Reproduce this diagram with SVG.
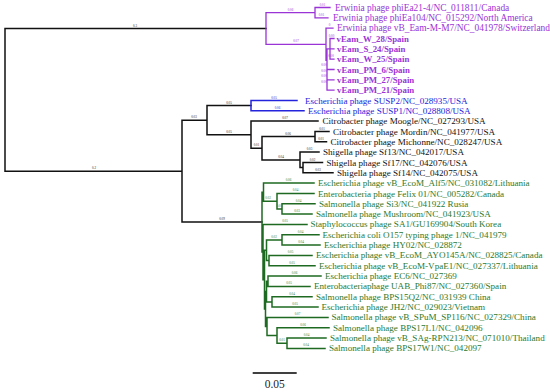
<svg xmlns="http://www.w3.org/2000/svg" width="550" height="392" viewBox="0 0 550 392">
<style>
.br{fill:none;stroke-width:1.5;stroke-linecap:square}
.k{stroke:#111}
.pu{stroke:#9a34d6;stroke-width:1.3}
.bl{stroke:#2424dc}
.gr{stroke:#1f6a22}
text{font-family:"Liberation Serif",serif}
.t{font-size:9.1px}
.tp{font-size:9.4px;fill:#9a34d6}
.tv{font-size:8.8px;font-weight:bold;fill:#9a34d6}
.tb{fill:#2424dc}
.tk{fill:#111}
.tg{fill:#2b7a2e}
.l{font-family:"Liberation Sans",sans-serif;font-size:3.2px;text-anchor:middle}
.lk{fill:#222}.lp{fill:#9a34d6}.lb{fill:#2424dc}.lg{fill:#2b7a2e}
</style>
<rect width="550" height="392" fill="#fff"/>
<g id="connectors">
<path class="br k" d="M5,28.5V171.2M5,28.5H266M5,171.2H182M182,120.2V222.1M182,120.2H207M182,222.1H262M207,105.6V134.7M207,105.6H251M207,134.7H251M251,121.1V148.2M251,121.1H318M251,148.2H262M262,136.6V159.9M262,136.6H315M262,159.9H300M315,131.5V141.8M315,131.5H329M315,141.8H326.5M300,152.1V167.6M300,152.1H319M300,167.6H303M303,162.5V172.8M303,162.5H322.5M303,172.8H333"/>
<path class="br bl" d="M251,100.5V110.8M251,100.5H297M251,110.8H304"/>
<path class="br pu" d="M266,12.7V44.3M266,12.7H315M266,44.3H326M315,7.5V17.8M315,7.5H330M315,17.8H328M326,28.2V60.4M326,28.2H333M326,60.4H327M327,48.8V90.1M327,48.8H330M330,38.5V59.2M330,38.5H334M330,48.8H334M330,59.2H334M327,69.5H334M327,79.8H334M327,90.1H334"/>
<path class="br gr" d="M262,192.2V252M262,192.2H263.5M262,252H263M263.5,183.1V201.2M263.5,183.1H314M263.5,201.2H277M277,193.4V209M277,193.4H314M277,209H282M282,203.8V214.1M282,203.8H315M282,214.1H312M263,224.4V279.7M263,224.4H307M263,279.7H264.5M264.5,250.3V309M264.5,250.3H266.5M264.5,309H265.5M266.5,239.9V260.6M266.5,239.9H282M266.5,260.6H269M282,234.8V245.1M282,234.8H319M282,245.1H320M269,255.4V265.8M269,255.4H312M269,265.8H315M265.5,291.6V326.4M265.5,291.6H266.5M265.5,326.4H267M266.5,281.3V301.9M266.5,281.3H268M266.5,301.9H272M268,276.1V286.4M268,276.1H321M268,286.4H310M272,296.7V307.1M272,296.7H312M272,307.1H318M267,317.4V335.5M267,317.4H328M267,335.5H277M277,327.7V343.2M277,327.7H329M277,343.2H287M287,338.1V348.4M287,338.1H326M287,348.4H325"/>
</g>
<g id="branch-lengths" class="l">
<text class="lk" x="135" y="26.5">0.3</text>
<text class="lk" x="94" y="169">0.2</text>
<text class="lk" x="194" y="118.2">0.03</text>
<text class="lk" x="222" y="220">0.09</text>
<text class="lk" x="229" y="103.6">0.05</text>
<text class="lk" x="229" y="132.7">0.05</text>
<text class="lb" x="274" y="98.5">0.05</text>
<text class="lb" x="277.5" y="108.8">0.06</text>
<text class="lk" x="285" y="119.1">0.07</text>
<text class="lk" x="256.5" y="146.2">0.01</text>
<text class="lk" x="288" y="134.6">0.06</text>
<text class="lk" x="322" y="129.5">0.01</text>
<text class="lk" x="321" y="139.8">0.01</text>
<text class="lk" x="281" y="157.9">0.04</text>
<text class="lk" x="309.5" y="150.1">0.03</text>
<text class="lk" x="312.5" y="160.5">0.02</text>
<text class="lk" x="318" y="170.8">0.03</text>
<text class="lp" x="290.5" y="10.7">0.06</text>
<text class="lp" x="296" y="42.3">0.07</text>
<text class="lp" x="322.5" y="5.5">0.01</text>
<text class="lp" x="321.5" y="15.8">0.01</text>
<text class="lp" x="329.5" y="26.2">0</text>
<text class="lp" x="331.5" y="36.5">0.00</text>
<text class="lp" x="331" y="57.2">0.00</text>
<text class="lp" x="324" y="66">0.00</text>
<text class="lp" x="324" y="71.5">0.00</text>
<text class="lp" x="324" y="77">0.00</text>
<text class="lp" x="324" y="82.5">0.00</text>
<text class="lg" x="288.5" y="181.1">0.06</text>
<text class="lg" x="268" y="199.2">0.02</text>
<text class="lg" x="295.5" y="191.4">0.04</text>
<text class="lg" x="279.5" y="207">0.01</text>
<text class="lg" x="298.5" y="201.8">0.04</text>
<text class="lg" x="297" y="212.1">0.03</text>
<text class="lg" x="285" y="222.4">0.05</text>
<text class="lg" x="274" y="237.9">0.02</text>
<text class="lg" x="300.5" y="232.8">0.04</text>
<text class="lg" x="301" y="243.1">0.04</text>
<text class="lg" x="290.5" y="253.4">0.05</text>
<text class="lg" x="292" y="263.8">0.05</text>
<text class="lg" x="294.5" y="274.1">0.06</text>
<text class="lg" x="289" y="284.4">0.05</text>
<text class="lg" x="292" y="294.7">0.04</text>
<text class="lg" x="295" y="305.1">0.05</text>
<text class="lg" x="297.5" y="315.4">0.07</text>
<text class="lg" x="303" y="325.7">0.06</text>
<text class="lg" x="282" y="341.2">0.01</text>
<text class="lg" x="306.5" y="336.1">0.04</text>
<text class="lg" x="306" y="346.4">0.04</text>
</g>
<g id="n0"><text class="tp" x="335" y="10.6">Erwinia phage phiEa21-4/NC_011811/Canada</text></g>
<g id="n1"><text class="tp" x="333" y="20.9">Erwinia phage phiEa104/NC_015292/North America</text></g>
<g id="n2"><text class="tp" x="337" y="31.2">Erwinia phage vB_Eam-M-M7/NC_041978/Switzerland</text></g>
<g id="n3"><text class="tv" x="336.5" y="41.6">vEam_W_28/Spain</text></g>
<g id="n4"><text class="tv" x="337" y="51.9">vEam_S_24/Spain</text></g>
<g id="n5"><text class="tv" x="337" y="62.2">vEam_W_25/Spain</text></g>
<g id="n6"><text class="tv" x="337" y="72.5">vEam_PM_6/Spain</text></g>
<g id="n7"><text class="tv" x="337" y="82.9">vEam_PM_27/Spain</text></g>
<g id="n8"><text class="tv" x="337" y="93.2">vEam_PM_21/Spain</text></g>
<g id="n9"><text class="t tb" x="305" y="103.5">Escherichia phage SUSP2/NC_028935/USA</text></g>
<g id="n10"><text class="t tb" x="308" y="113.8">Escherichia phage SUSP1/NC_028808/USA</text></g>
<g id="n11"><text class="t tk" x="322.5" y="124.2">Citrobacter phage Moogle/NC_027293/USA</text></g>
<g id="n12"><text class="t tk" x="333" y="134.5">Citrobacter phage Mordin/NC_041977/USA</text></g>
<g id="n13"><text class="t tk" x="330.5" y="144.8">Citrobacter phage Michonne/NC_028247/USA</text></g>
<g id="n14"><text class="t tk" x="323" y="155.2">Shigella phage Sf13/NC_042017/USA</text></g>
<g id="n15"><text class="t tk" x="326.5" y="165.5">Shigella phage Sf17/NC_042076/USA</text></g>
<g id="n16"><text class="t tk" x="337" y="175.8">Shigella phage Sf14/NC_042075/USA</text></g>
<g id="n17"><text class="t tg" x="318" y="186.1">Escherichia phage vB_EcoM_Alf5/NC_031082/Lithuania</text></g>
<g id="n18"><text class="t tg" x="318" y="196.5">Enterobacteria phage Felix 01/NC_005282/Canada</text></g>
<g id="n19"><text class="t tg" x="319" y="206.8">Salmonella phage Si3/NC_041922 Rusia</text></g>
<g id="n20"><text class="t tg" x="316" y="217.1">Salmonella phage Mushroom/NC_041923/USA</text></g>
<g id="n21"><text class="t tg" x="310.5" y="227.4">Staphylococcus phage SA1/GU169904/South Korea</text></g>
<g id="n22"><text class="t tg" x="322.5" y="237.8">Escherichia coli O157 typing phage 1/NC_041979</text></g>
<g id="n23"><text class="t tg" x="324" y="248.1">Escherichia phage HY02/NC_028872</text></g>
<g id="n24"><text class="t tg" x="316" y="258.4">Escherichia phage vB_EcoM_AYO145A/NC_028825/Canada</text></g>
<g id="n25"><text class="t tg" x="319" y="268.8">Escherichia phage vB_EcoM-VpaE1/NC_027337/Lithuania</text></g>
<g id="n26"><text class="t tg" x="325" y="279.1">Escherichia phage EC6/NC_027369</text></g>
<g id="n27"><text class="t tg" x="314" y="289.4">Enterobacteriaphage UAB_Phi87/NC_027360/Spain</text></g>
<g id="n28"><text class="t tg" x="316" y="299.7">Salmonella phage BPS15Q2/NC_031939 China</text></g>
<g id="n29"><text class="t tg" x="321.5" y="310.1">Escherichia phage JH2/NC_029023/Vietnam</text></g>
<g id="n30"><text class="t tg" x="331.5" y="320.4">Salmonella phage vB_SPuM_SP116/NC_027329/China</text></g>
<g id="n31"><text class="t tg" x="333" y="330.7">Salmonella phage BPS17L1/NC_042096</text></g>
<g id="n32"><text class="t tg" x="330" y="341.1">Salmonella phage vB_SAg-RPN213/NC_071010/Thailand</text></g>
<g id="n33"><text class="t tg" x="329" y="351.4">Salmonella phage BPS17W1/NC_042097</text></g>
<g id="scale">
<path d="M252.7,373H296.7" stroke="#000" stroke-width="1.3" fill="none"/>
<text x="274.7" y="387.5" font-family="'Liberation Sans',sans-serif" font-size="11.5" text-anchor="middle" fill="#222">0.05</text>
</g>
</svg>
